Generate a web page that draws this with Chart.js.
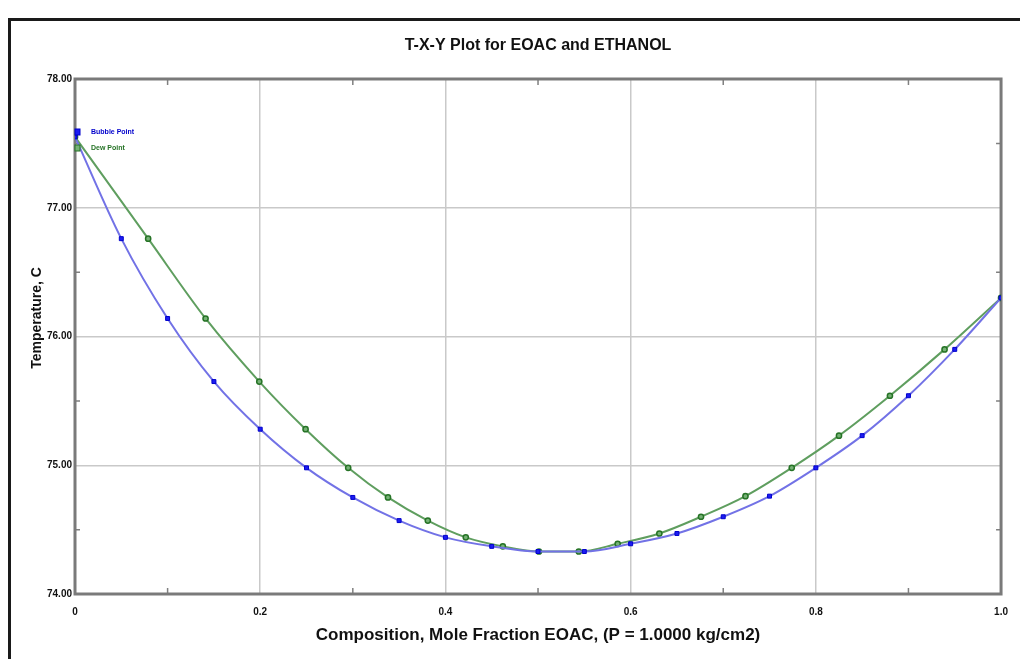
<!DOCTYPE html>
<html>
<head>
<meta charset="utf-8">
<title>T-X-Y Plot for EOAC and ETHANOL</title>
<script src="https://cdn.jsdelivr.net/npm/chart.js@4.4.1/dist/chart.umd.min.js"></script>
<style>
  html, body { margin: 0; padding: 0; background: #fff; }
  #wrap { position: relative; width: 1020px; height: 659px; overflow: hidden; }
  #frame { position: absolute; left: 8px; top: 18px; width: 1100px; height: 800px; border: 3px solid #1a1a1a; }
  #txy { position: absolute; left: 0; top: 0; }
</style>
</head>
<body>
<div id="wrap">
  <div id="frame"></div>
  <canvas id="txy" width="1020" height="659"></canvas>
</div>
<script>
// liquid composition (bubble) and vapour composition (dew), mole fraction EOAC
const bubbleX = [0, 0.05, 0.1, 0.15, 0.2, 0.25, 0.3, 0.35, 0.4, 0.45, 0.5, 0.55, 0.6, 0.65, 0.7, 0.75, 0.8, 0.85, 0.9, 0.95, 1.0];
const bubbleT = [77.55, 76.76, 76.14, 75.65, 75.28, 74.98, 74.75, 74.57, 74.44, 74.37, 74.33, 74.33, 74.39, 74.47, 74.60, 74.76, 74.98, 75.23, 75.54, 75.90, 76.30];
const dewX = [0, 0.079, 0.141, 0.199, 0.249, 0.295, 0.338, 0.381, 0.422, 0.462, 0.501, 0.544, 0.586, 0.631, 0.676, 0.724, 0.774, 0.825, 0.880, 0.939, 1.0];
const dewT = [77.55, 76.76, 76.14, 75.65, 75.28, 74.98, 74.75, 74.57, 74.44, 74.37, 74.33, 74.33, 74.39, 74.47, 74.60, 74.76, 74.98, 75.23, 75.54, 75.90, 76.30];

const xTickLabels = ["0", "0.2", "0.4", "0.6", "0.8", "1.0"];
const yTickLabels = ["74.00", "75.00", "76.00", "77.00", "78.00"];
const seriesNames = ["Bubble Point", "Dew Point"];
const yTitle = "Temperature, C";

const NARROW = '"Liberation Sans Narrow", "Liberation Sans", Arial, sans-serif';
const SANS = '"Liberation Sans", Arial, sans-serif';

const pts = (xs, ys) => xs.map((x, i) => ({ x: x, y: ys[i] }));

// gray box round the plot, with small inner ticks halfway between the grid lines
const plotFrame = {
  id: "plotFrame",
  beforeDatasetsDraw(chart) {
    const { ctx, chartArea: a, scales } = chart;
    ctx.save();
    ctx.strokeStyle = "#808080";
    ctx.lineWidth = 1.5;
    const xs = scales.x.ticks.map(t => t.value);
    for (let i = 0; i < xs.length - 1; i++) {
      const px = scales.x.getPixelForValue((xs[i] + xs[i + 1]) / 2);
      ctx.beginPath();
      ctx.moveTo(px, a.bottom); ctx.lineTo(px, a.bottom - 6);
      ctx.moveTo(px, a.top); ctx.lineTo(px, a.top + 6);
      ctx.stroke();
    }
    const ys = scales.y.ticks.map(t => t.value);
    for (let i = 0; i < ys.length - 1; i++) {
      const py = scales.y.getPixelForValue((ys[i] + ys[i + 1]) / 2);
      ctx.beginPath();
      ctx.moveTo(a.left, py); ctx.lineTo(a.left + 5, py);
      ctx.moveTo(a.right, py); ctx.lineTo(a.right - 5, py);
      ctx.stroke();
    }
    ctx.strokeStyle = "#7a7a7a";
    ctx.lineWidth = 3;
    ctx.strokeRect(a.left, a.top, a.right - a.left, a.bottom - a.top);
    ctx.restore();
  }
};

// series key in the upper left corner of the plot, plus the vertical axis caption
const seriesKey = {
  id: "seriesKey",
  afterDatasetsDraw(chart) {
    const { ctx, chartArea: a } = chart;
    ctx.save();
    ctx.font = "bold 7px " + NARROW;
    ctx.textBaseline = "middle";
    chart.data.datasets.forEach((ds, i) => {
      const y = a.top + 53 + i * 16;
      ctx.fillStyle = ds.pointBackgroundColor;
      ctx.strokeStyle = ds.pointBorderColor;
      ctx.lineWidth = 1;
      ctx.fillRect(a.left, y - 3, 5, 6);
      ctx.strokeRect(a.left, y - 3, 5, 6);
      ctx.fillStyle = ds.pointBorderColor;
      ctx.fillText(ds.label, a.left + 16, y);
    });

    ctx.translate(37, 318);
    ctx.rotate(-Math.PI / 2);
    ctx.font = "bold 14px " + SANS;
    ctx.textAlign = "center";
    ctx.fillStyle = "#111";
    ctx.fillText(yTitle, 0, 0);
    ctx.restore();
  }
};

new Chart(document.getElementById("txy"), {
  type: "scatter",
  data: {
    datasets: [
      {
        label: seriesNames[0],
        data: pts(bubbleX, bubbleT),
        showLine: true,
        cubicInterpolationMode: "monotone",
        borderColor: "#7272e6",
        borderWidth: 2,
        pointStyle: "rect",
        pointRadius: 2.8,
        pointBackgroundColor: "#1c1cf2",
        pointBorderColor: "#0000cc",
        pointBorderWidth: 1
      },
      {
        label: seriesNames[1],
        data: pts(dewX, dewT),
        showLine: true,
        cubicInterpolationMode: "monotone",
        borderColor: "#5f9e5f",
        borderWidth: 2,
        pointStyle: "circle",
        pointRadius: 2.6,
        pointBackgroundColor: "#76b276",
        pointBorderColor: "#267326",
        pointBorderWidth: 1.5
      }
    ]
  },
  options: {
    responsive: false,
    animation: false,
    events: [],
    layout: { padding: { left: 12, right: 17, top: 0, bottom: 0 } },
    plugins: {
      legend: { display: false },
      tooltip: { enabled: false },
      title: {
        display: true,
        fullSize: false,
        text: "T-X-Y Plot for EOAC and ETHANOL",
        color: "#111",
        font: { family: NARROW, size: 16, weight: "bold", lineHeight: 1.2 },
        padding: { top: 36, bottom: 23.8 }
      }
    },
    scales: {
      x: {
        type: "linear",
        min: 0,
        max: 1,
        afterFit(s) { s.height = 65; },
        grid: { color: "#c9c9c9", lineWidth: 1.5, drawTicks: false },
        border: { display: false },
        ticks: {
          stepSize: 0.2,
          padding: 12,
          color: "#111",
          font: { family: NARROW, size: 10, weight: "bold" },
          maxRotation: 0,
          callback: (v, i) => xTickLabels[i]
        },
        title: {
          display: true,
          text: "Composition, Mole Fraction EOAC, (P = 1.0000 kg/cm2)",
          color: "#111",
          font: { family: NARROW, size: 17, weight: "bold", lineHeight: 1.2 },
          padding: { top: 0, bottom: 13 }
        }
      },
      y: {
        type: "linear",
        min: 74,
        max: 78,
        afterFit(s) { s.width = 63; },
        grid: { color: "#c9c9c9", lineWidth: 1.5, drawTicks: false },
        border: { display: false },
        ticks: {
          stepSize: 1,
          padding: 3,
          color: "#111",
          font: { family: NARROW, size: 10, weight: "bold" },
          callback: (v, i) => yTickLabels[i]
        }
      }
    }
  },
  plugins: [plotFrame, seriesKey]
});
</script>
</body>
</html>
